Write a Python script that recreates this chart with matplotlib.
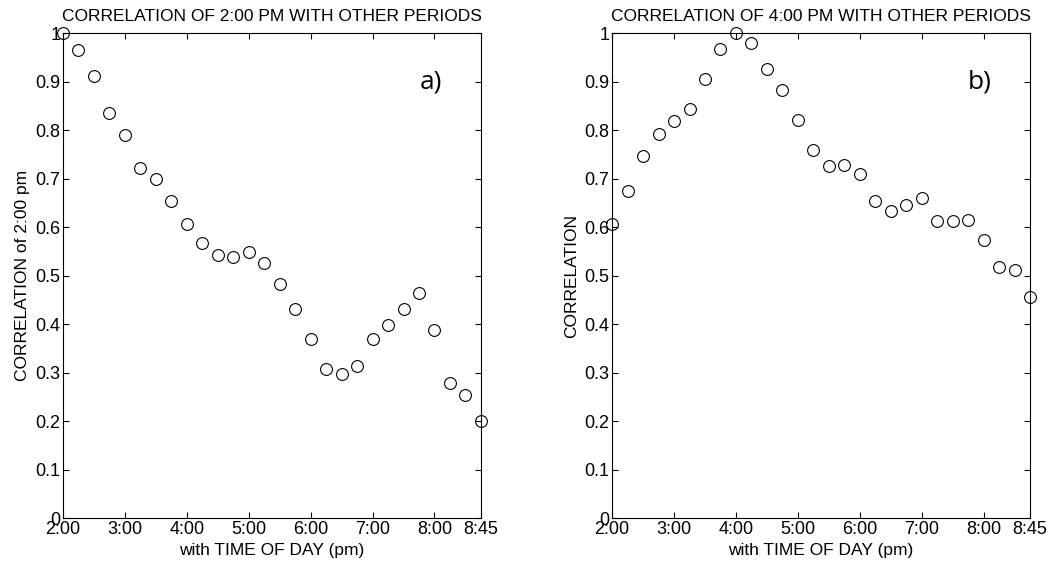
import matplotlib
matplotlib.use("Agg")
import matplotlib.pyplot as plt

# ─── Data ────────────────────────────────────────────────────────────────────
times = ["2:00", "2:15", "2:30", "2:45", "3:00", "3:15", "3:30", "3:45",
         "4:00", "4:15", "4:30", "4:45", "5:00", "5:15", "5:30", "5:45",
         "6:00", "6:15", "6:30", "6:45", "7:00", "7:15", "7:30", "7:45",
         "8:00", "8:15", "8:30", "8:45"]

corr_2pm = [1.000, 0.965, 0.912, 0.835, 0.790, 0.722, 0.699, 0.654,
            0.606, 0.567, 0.543, 0.539, 0.548, 0.526, 0.483, 0.431,
            0.370, 0.308, 0.298, 0.313, 0.370, 0.399, 0.432, 0.464,
            0.387, 0.278, 0.253, 0.200]

corr_4pm = [0.607, 0.674, 0.746, 0.793, 0.819, 0.844, 0.906, 0.967,
            1.000, 0.981, 0.927, 0.883, 0.821, 0.760, 0.726, 0.728,
            0.709, 0.654, 0.634, 0.646, 0.660, 0.612, 0.612, 0.615,
            0.573, 0.517, 0.511, 0.457]

tick_times = ["2:00", "3:00", "4:00", "5:00", "6:00", "7:00", "8:00", "8:45"]
y_ticks = [0, 0.1, 0.2, 0.3, 0.4, 0.5, 0.6, 0.7, 0.8, 0.9, 1]
y_ticklabels = ["0", "0.1", "0.2", "0.3", "0.4", "0.5", "0.6", "0.7", "0.8", "0.9", "1"]


def to_hours(t):
    h, m = t.split(":")
    return int(h) + int(m) / 60.0


x = [to_hours(t) for t in times]
x_ticks = [to_hours(t) for t in tick_times]

plt.rcParams["font.family"] = ["Liberation Sans", "DejaVu Sans"]

fig = plt.figure(figsize=(10.5, 5.65), dpi=100)
ax_a = fig.add_axes([0.060, 0.083, 0.398, 0.858])
ax_b = fig.add_axes([0.583, 0.083, 0.398, 0.858])

panels = [
    (ax_a, corr_2pm, "CORRELATION OF 2:00 PM WITH OTHER PERIODS",
     "CORRELATION of 2:00 pm", "a)"),
    (ax_b, corr_4pm, "CORRELATION OF 4:00 PM WITH OTHER PERIODS",
     "CORRELATION", "b)"),
]

for ax, vals, title, ylabel, tag in panels:
    ax.plot(x, vals, linestyle="none", marker="o", markersize=8.5,
            markerfacecolor="none", markeredgecolor="black",
            markeredgewidth=0.8, clip_on=False, zorder=3)
    ax.set_xlim(x_ticks[0], x_ticks[-1])
    ax.set_ylim(0, 1)
    ax.set_xticks(x_ticks)
    ax.set_xticklabels(tick_times, fontsize=13)
    ax.set_yticks(y_ticks)
    ax.set_yticklabels(y_ticklabels, fontsize=13)
    ax.tick_params(direction="in", top=True, right=True, length=4,
                   width=0.8, pad=2, colors="black")
    ax.set_title(title, fontsize=12.5, pad=9)
    ax.set_xlabel("with TIME OF DAY (pm)", fontsize=12.5, labelpad=4)
    ax.set_ylabel(ylabel, fontsize=12.5, labelpad=4)
    for spine in ax.spines.values():
        spine.set_linewidth(0.8)
    ax.text(0.88, 0.90, tag, transform=ax.transAxes, fontsize=19,
            family=["Open Sans", "DejaVu Sans"], ha="center", va="center")

fig.savefig("out.png", dpi=100, facecolor="white")
